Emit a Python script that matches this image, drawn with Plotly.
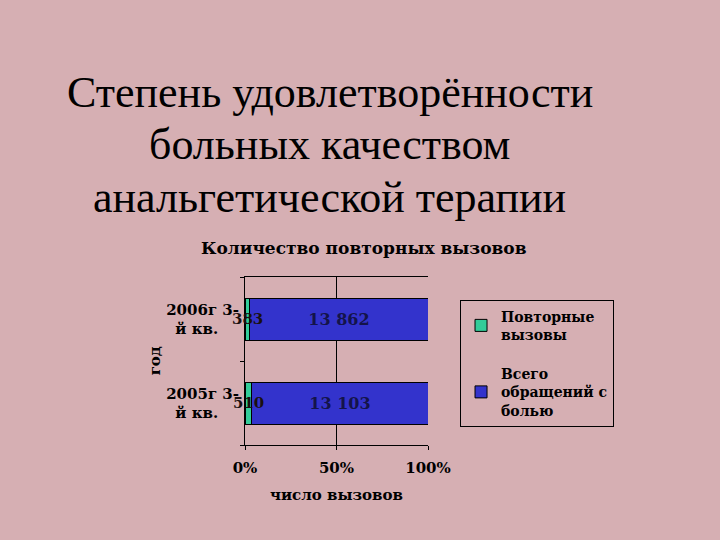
import plotly.graph_objects as go

categories = ["2005г 3-<br>й кв.", "2006г 3-<br>й кв."]
repeat_calls = [510, 383]
total_pain = [13103, 13862]
series_names = ["Повторные<br>вызовы", "Всего<br>обращений с<br>болью"]
x_ticks = [0, 50, 100]
x_tick_labels = ["0%", "50%", "100%"]
title_lines = ["Степень удовлетворённости", "больных качеством", "анальгетической терапии"]

BG = "#d6afb3"
GREEN = "#33cc99"
BLUE = "#3333cc"
SERIF = "Liberation Serif, Times New Roman, serif"
CHART = "DejaVu Serif, serif"
NB = "\u00a0"

fig = go.Figure()
fig.add_trace(go.Bar(
    y=categories, x=repeat_calls, orientation="h", name=f"<b>{series_names[0]}</b>",
    legendgroup="a",
    marker=dict(color=GREEN, line=dict(color="black", width=1)),
))
fig.add_trace(go.Bar(
    y=categories, x=total_pain, orientation="h", name=f"<b>{series_names[1]}</b>",
    legendgroup="b",
    marker=dict(color=BLUE, line=dict(color="black", width=1)),
    text=total_pain, texttemplate="<b>%{x:,d}</b>", textposition="inside",
    insidetextanchor="middle",
    textfont=dict(family=CHART, size=16, color="#14144a"),
))

annotations = []
for cat, r, t in zip(categories, repeat_calls, total_pain):
    share = r / (r + t) * 100
    annotations.append(dict(
        x=share / 2, y=cat, xref="x", yref="y", text=f"<b>{r}</b>",
        showarrow=False, xanchor="center", yanchor="middle",
        font=dict(family=CHART, size=15, color="#1a1010"),
    ))

# main slide title (three centred lines)
title_y = [2.101, 1.786, 1.476]
for line, yy in zip(title_lines, title_y):
    annotations.append(dict(
        x=0.464, y=yy, xref="paper", yref="paper", text=line,
        showarrow=False, xanchor="center", yanchor="middle",
        font=dict(family=SERIF, size=44, color="black"),
    ))

annotations += [
    dict(x=0.65, y=1.17, xref="paper", yref="paper",
         text="<b>Количество повторных вызовов</b>", showarrow=False,
         xanchor="center", yanchor="middle",
         font=dict(family=CHART, size=17, color="black")),
    dict(x=0.5, y=-0.30, xref="paper", yref="paper",
         text="<b>число вызовов</b>", showarrow=False,
         xanchor="center", yanchor="middle",
         font=dict(family=CHART, size=15, color="black")),
    dict(x=-0.49, y=0.50, xref="paper", yref="paper",
         text="<b>год</b>", showarrow=False, textangle=-90,
         xanchor="center", yanchor="middle",
         font=dict(family=CHART, size=15, color="black")),
]

tick_text = []
for c in categories:
    first, second = c.split("<br>")
    tick_text.append(f"<b>{first}<br>{second}{NB * 4}</b>")

fig.update_layout(
    width=720, height=540,
    paper_bgcolor=BG, plot_bgcolor="rgba(0,0,0,0)",
    barmode="stack", barnorm="percent", bargap=0.5,
    separators=", ",
    margin=dict(l=245, r=292, t=277, b=95, autoexpand=False),
    xaxis=dict(
        range=[0, 100], tickvals=x_ticks,
        ticktext=[f"<b>{t}</b>" for t in x_tick_labels],
        showgrid=True, gridcolor="black", gridwidth=1,
        showline=True, linecolor="black", linewidth=1, mirror=True,
        ticks="outside", ticklen=4, tickcolor="black",
        tickfont=dict(family=CHART, size=15, color="black"),
        ticklabelstandoff=5,
        zeroline=False, fixedrange=True,
    ),
    yaxis=dict(
        tickvals=categories, ticktext=tick_text,
        showgrid=False, showline=True, linecolor="black", linewidth=1,
        ticks="outside", ticklen=4, tickcolor="black", tickson="boundaries",
        tickfont=dict(family=CHART, size=15, color="black"),
        ticklabelstandoff=2, fixedrange=True,
    ),
    legend=dict(
        x=1.175, y=0.865, xanchor="left", yanchor="top",
        bordercolor="black", borderwidth=1, bgcolor="rgba(0,0,0,0)",
        traceorder="grouped", tracegroupgap=18,
        font=dict(family=CHART, size=14, color="black"),
        itemwidth=30,
    ),
    annotations=annotations,
    showlegend=True,
)

fig.write_html("out.html", config={"displayModeBar": False},
               post_script="document.body.style.margin='0';")
